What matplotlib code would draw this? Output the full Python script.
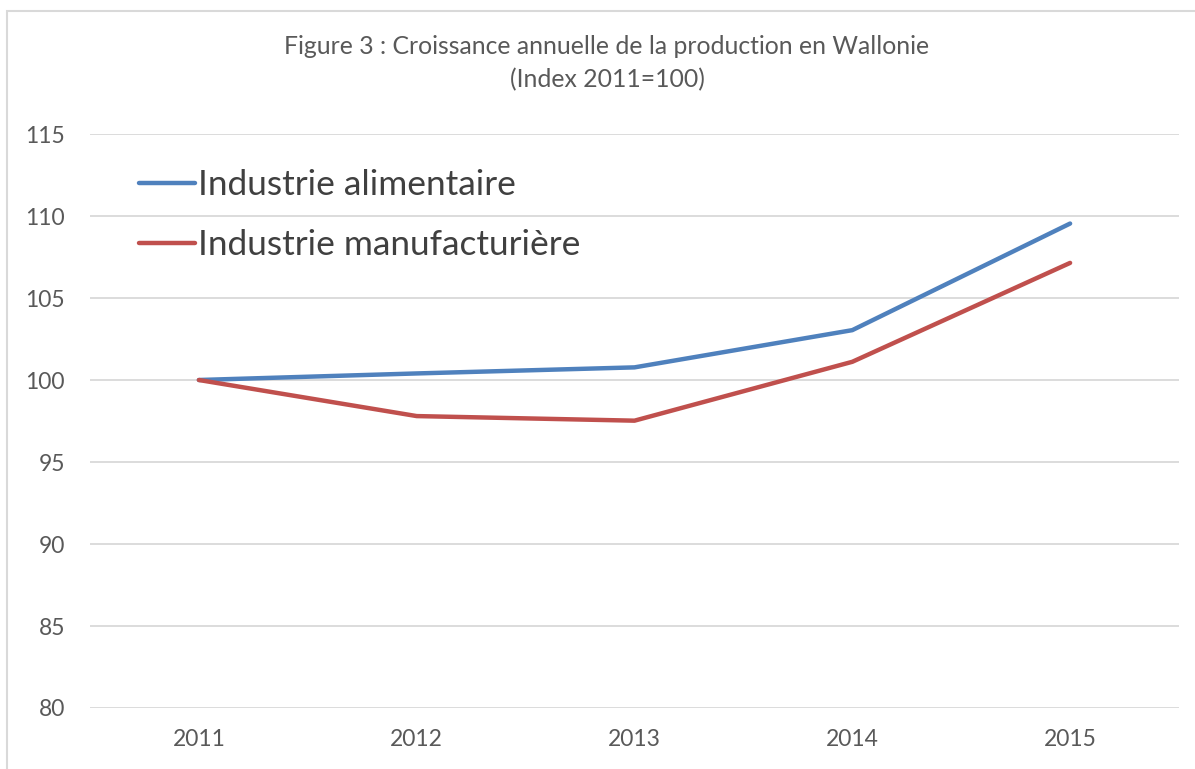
import matplotlib.pyplot as plt
from matplotlib.patches import Rectangle

years = ['2011', '2012', '2013', '2014', '2015']
alimentaire = [100.0, 100.4, 100.77, 103.04, 109.54]
manufacturiere = [100.0, 97.8, 97.52, 101.11, 107.14]

W, H = 1195, 769
plt.rcParams['font.family'] = ['Lato', 'DejaVu Sans']

fig = plt.figure(figsize=(W / 100, H / 100), dpi=100)
ax = fig.add_axes([90 / W, 1 - 708 / H, (1179 - 90) / W, (708 - 134) / H])

x = range(len(years))
ax.plot(x, alimentaire, color='#4F81BD', lw=3.2, solid_capstyle='round',
        label='Industrie alimentaire')
ax.plot(x, manufacturiere, color='#C0504D', lw=3.2, solid_capstyle='round',
        label='Industrie manufacturière')

ax.set_xlim(-0.5, len(years) - 0.5)
ax.set_ylim(80, 115)
ax.set_yticks(range(80, 116, 5))
ax.set_xticks(list(x))
ax.set_xticklabels(years)
ax.grid(axis='y', color='#D9D9D9', lw=1.3)
ax.set_axisbelow(True)
for s in ax.spines.values():
    s.set_visible(False)
ax.tick_params(length=0, labelsize=16.5, colors='#595959')
ax.tick_params(axis='x', pad=15)
ax.tick_params(axis='y', pad=18)

fig.text(607 / W, 1 - 47 / H, 'Figure 3 : Croissance annuelle de la production en Wallonie',
         ha='center', va='center', fontsize=17.8, color='#595959')
fig.text(607 / W, 1 - 80 / H, '(Index 2011=100)',
         ha='center', va='center', fontsize=17.8, color='#595959')

ax.legend(loc='upper left', bbox_to_anchor=(139 / W, 1 - 169 / H),
          bbox_transform=fig.transFigure, frameon=False, fontsize=25.4,
          handlelength=1.59, handletextpad=0.09, labelspacing=0.79,
          borderpad=0, borderaxespad=0, labelcolor='#404040')

fig.add_artist(Rectangle((7 / W, -0.1), 1.2, 1.1 - 11 / H, transform=fig.transFigure,
                         fill=False, edgecolor='#D9D9D9', lw=1.5, clip_on=False))

fig.savefig('out.png', dpi=100)
